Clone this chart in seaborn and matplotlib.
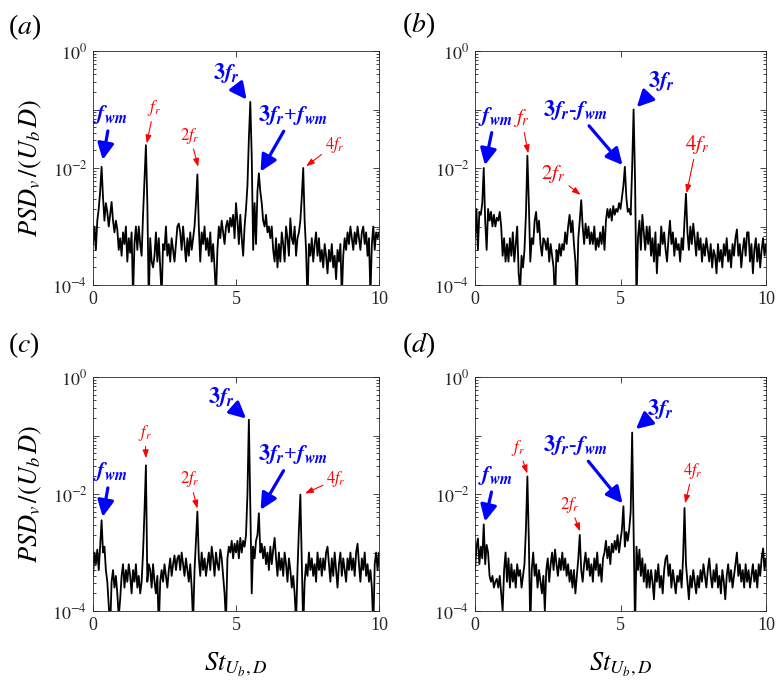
import numpy as np
import pandas as pd
import matplotlib
matplotlib.use('Agg')
import matplotlib.pyplot as plt
import matplotlib.ticker as mticker
import seaborn as sns

# ---------------- data ----------------
# Strouhal-number bins
st = np.linspace(0, 10, 201)

# log10(PSD), one value per bin (0.05 spacing)
psd_a_log10 = [
    -3.3, -3.0, -3.4, -2.9, -2.7, -2.4, -1.98, -2.5, -2.9, -2.6, -2.75, -3.0, -2.8, -2.58, -2.9, -3.1, -2.9, -3.05, -3.4, -3.2,
    -3.5, -3.1, -3.3, -3.0, -3.6, -3.2, -3.45, -3.1, -4.2, -3.3, -3.0, -3.4, -3.0, -3.3, -3.5, -2.8, -2.2, -1.61, -2.6, -4.3,
    -3.2, -3.6, -3.7, -3.5, -3.1, -3.6, -3.2, -3.7, -4.2, -3.3, -3.4, -3.0, -3.5, -3.3, -3.6, -3.2, -3.4, -3.6, -3.3, -3.0,
    -2.95, -3.1, -3.4, -3.0, -3.3, -3.6, -3.2, -3.5, -3.1, -3.4, -3.2, -3.0, -2.6, -2.11, -3.0, -3.6, -3.1, -3.3, -3.0, -3.4,
    -3.2, -3.5, -3.1, -3.6, -3.3, -3.7, -4.2, -3.4, -3.0, -3.2, -2.9, -3.1, -3.3, -3.0, -2.9, -3.1, -2.85, -3.0, -2.8, -3.2,
    -2.6, -2.9, -3.3, -2.8, -3.2, -3.5, -3.0, -2.7, -2.3, -1.5, -0.87, -1.8, -3.4, -2.6, -3.3, -2.4, -2.09, -2.4, -2.6, -2.9,
    -3.0, -2.8, -3.1, -3.0, -3.2, -3.0, -3.4, -3.6, -3.2, -3.7, -3.3, -3.6, -3.1, -3.3, -3.6, -3.0, -3.2, -3.5, -2.86, -3.2,
    -3.3, -3.0, -3.5, -3.2, -3.1, -2.9, -2.5, -2.0, -2.9, -3.4, -4.3, -3.3, -3.5, -3.2, -3.6, -3.3, -3.1, -3.5, -3.2, -3.6,
    -3.4, -3.7, -3.3, -3.5, -3.8, -3.4, -3.6, -3.3, -3.7, -3.5, -3.9, -3.4, -3.6, -3.3, -4.2, -3.5, -3.2, -3.4, -3.1, -3.3,
    -3.0, -3.2, -3.4, -3.1, -3.3, -3.0, -3.2, -3.4, -3.1, -3.0, -3.3, -3.1, -3.5, -3.2, -4.2, -3.3, -3.0, -3.4, -3.1, -3.2, -3.1,
]
psd_b_log10 = [
    -3.2, -2.7, -3.4, -2.75, -2.8, -2.6, -2.0, -2.9, -3.4, -2.7, -2.9, -2.75, -3.0, -2.8, -3.0, -2.85, -2.9, -2.75, -3.0, -3.5,
    -3.2, -3.6, -3.3, -3.6, -3.2, -3.5, -3.1, -3.6, -3.3, -3.0, -3.8, -4.1, -3.5, -3.7, -3.4, -2.8, -1.79, -2.6, -3.6, -3.2,
    -3.3, -2.9, -2.75, -3.1, -2.9, -3.3, -3.5, -3.2, -3.25, -3.4, -3.2, -3.6, -3.3, -3.5, -3.7, -4.3, -3.4, -3.6, -3.3, -3.5,
    -3.3, -3.4, -3.1, -3.3, -3.0, -2.8, -3.1, -2.9, -3.3, -3.6, -4.2, -3.2, -2.9, -2.55, -3.0, -3.3, -2.95, -3.2, -3.0, -3.3,
    -3.1, -3.3, -3.0, -3.4, -3.2, -3.35, -3.1, -3.3, -3.0, -3.4, -2.9, -2.7, -2.85, -2.7, -2.9, -2.65, -2.8, -2.7, -2.75, -2.6,
    -2.7, -2.5, -2.3, -1.98, -2.5, -2.75, -2.7, -2.8, -2.0, -1.0, -2.2, -4.3, -3.2, -2.9, -3.4, -2.8, -3.1, -3.4, -3.0, -3.3,
    -3.0, -3.5, -3.2, -3.6, -3.1, -3.8, -3.3, -3.5, -3.0, -3.3, -3.1, -3.4, -3.6, -3.2, -2.9, -3.3, -3.1, -3.5, -3.2, -3.4,
    -3.3, -3.6, -3.2, -3.4, -2.9, -2.44, -3.1, -3.4, -3.0, -3.3, -2.95, -3.2, -3.5, -3.1, -3.4, -3.2, -3.6, -3.3, -3.5, -3.2,
    -3.4, -3.6, -3.3, -3.7, -3.4, -3.5, -3.8, -3.3, -3.6, -3.4, -3.7, -3.3, -3.5, -3.2, -3.6, -3.4, -3.7, -3.3, -3.5, -3.2,
    -3.05, -3.5, -3.3, -3.7, -3.4, -3.2, -3.5, -3.1, -3.1, -3.6, -3.3, -3.8, -3.4, -3.2, -3.6, -3.3, -3.7, -3.4, -3.2, -3.5, -3.3,
]
psd_c_log10 = [
    -3.4, -3.0, -3.2, -2.95, -3.3, -2.9, -2.45, -3.0, -2.9, -3.3, -3.5, -3.9, -4.3, -3.5, -3.3, -3.6, -3.4, -3.7, -4.1, -3.8,
    -3.4, -3.2, -3.6, -3.3, -3.5, -3.2, -3.4, -3.7, -3.3, -3.5, -3.2, -3.6, -3.4, -3.7, -3.5, -3.0, -2.3, -1.51, -3.5, -3.2,
    -3.3, -3.6, -3.2, -3.5, -3.7, -3.4, -4.3, -3.5, -3.3, -3.5, -3.2, -3.4, -3.6, -3.3, -3.1, -3.4, -3.2, -3.05, -3.3, -3.1,
    -3.05, -3.3, -3.0, -3.2, -3.4, -3.1, -3.3, -3.5, -3.2, -3.6, -4.2, -3.3, -2.8, -2.3, -3.1, -3.4, -3.0, -3.3, -3.1, -3.4,
    -3.2, -3.0, -3.3, -2.9, -3.1, -3.4, -3.0, -3.2, -3.3, -2.95, -3.1, -3.4, -3.7, -4.2, -3.1, -2.9, -3.0, -2.8, -3.1, -2.85,
    -3.0, -2.8, -3.1, -2.75, -3.0, -2.8, -2.9, -2.7, -2.0, -0.73, -2.2, -3.7, -2.9, -3.1, -2.8, -2.7, -2.33, -3.0, -2.85, -3.1,
    -2.9, -3.2, -3.0, -3.3, -2.9, -3.2, -2.95, -2.75, -3.1, -3.4, -3.0, -3.3, -3.1, -3.4, -3.0, -3.2, -3.5, -3.1, -3.3, -3.6,
    -3.4, -3.7, -4.2, -3.3, -2.6, -2.01, -3.2, -4.3, -3.5, -3.2, -3.4, -3.0, -3.3, -3.1, -3.4, -3.2, -3.5, -3.0, -3.3, -3.1,
    -3.4, -3.1, -3.3, -3.0, -2.9, -3.2, -3.5, -3.1, -3.4, -3.0, -3.3, -3.6, -3.2, -3.0, -3.4, -3.1, -3.3, -3.5, -3.1, -3.3,
    -3.0, -3.3, -3.1, -3.4, -3.0, -2.85, -3.2, -3.5, -3.1, -3.3, -3.0, -3.4, -3.2, -3.5, -3.3, -3.6, -4.3, -3.2, -3.0, -3.3, -3.0,
]
psd_d_log10 = [
    -3.3, -2.9, -2.76, -3.2, -2.9, -3.1, -2.52, -3.2, -2.87, -3.0, -3.4, -3.5, -3.4, -3.6, -3.5, -3.45, -3.6, -3.4, -3.7, -4.0,
    -3.3, -3.0, -3.5, -3.1, -3.6, -3.2, -3.5, -3.3, -3.6, -3.2, -3.4, -3.3, -3.6, -3.4, -3.2, -2.6, -1.70, -2.8, -4.3, -3.3,
    -3.0, -3.4, -3.2, -3.6, -3.3, -3.5, -3.7, -3.4, -4.0, -3.3, -3.1, -3.5, -3.2, -3.0, -3.3, -2.95, -3.2, -3.4, -3.1, -3.3,
    -3.0, -3.3, -3.1, -3.4, -3.2, -3.5, -3.3, -3.6, -3.3, -3.7, -3.4, -3.1, -2.7, -3.3, -3.5, -3.2, -3.0, -3.3, -3.1, -3.4,
    -3.2, -3.5, -3.1, -3.3, -3.0, -3.4, -3.2, -3.5, -3.1, -3.0, -2.8, -3.1, -2.9, -3.2, -2.85, -3.0, -2.8, -2.95, -2.7, -3.0,
    -2.8, -2.6, -2.21, -2.9, -2.65, -2.8, -2.6, -2.3, -0.95, -2.6, -4.3, -2.9, -3.3, -2.95, -3.4, -3.1, -3.5, -3.2, -3.6, -3.3,
    -3.6, -3.3, -3.5, -3.8, -3.3, -3.5, -3.2, -3.6, -3.4, -3.7, -3.3, -3.1, -3.05, -3.4, -3.2, -3.6, -3.3, -3.5, -3.7, -3.4,
    -3.5, -3.3, -3.6, -3.1, -2.24, -3.2, -3.5, -3.8, -3.4, -3.6, -3.3, -3.5, -3.7, -3.4, -3.6, -3.3, -3.5, -3.2, -3.4, -3.6,
    -3.3, -3.1, -3.4, -3.6, -3.3, -3.5, -3.2, -3.6, -3.4, -3.7, -3.3, -3.5, -3.8, -3.4, -3.2, -3.5, -3.3, -3.6, -3.4, -3.2,
    -3.0, -3.4, -3.2, -3.5, -3.3, -3.6, -3.2, -3.5, -3.3, -3.6, -3.4, -3.2, -3.5, -3.3, -3.6, -3.2, -3.4, -3.1, -2.93, -3.3, -3.1,
]

panel_names = ['a', 'b', 'c', 'd']
y_tick_values = [1e-4, 1e-3, 1e-2, 1e-1, 1e0]
y_tick_labels = [r'$10^{-4}$', '', r'$10^{-2}$', '', r'$10^{0}$']
x_tick_values = [0, 5, 10]

# peak labels
_f_r = r'$\mathbf{3}\mathbfit{f}_{\mathbfit{r}}$'
_f_wm = r'$\mathbfit{f}_{\mathbfit{wm}}$'
label_text = {
    'fwm': _f_wm,
    '3fr': _f_r,
    '3fr+fwm': _f_r + '+' + _f_wm,
    '3fr-fwm': _f_r + '-' + _f_wm,
    'fr': r'$f_r$',
    '2fr': r'$2f_r$',
    '4fr': r'$4f_r$',
}

# annotation layout: (label, colour, arrow tip (St, log10), text centre (St, log10))
annotations = {
    'a': [('fwm', 'blue', (0.34, -1.86), (0.62, -1.09)),
          ('fr', 'red', (1.88, -1.58), (2.13, -0.98)),
          ('2fr', 'red', (3.68, -1.98), (3.39, -1.45)),
          ('3fr', 'blue', (5.37, -0.83), (4.67, -0.38)),
          ('3fr+fwm', 'blue', (5.86, -2.06), (7.0, -1.09)),
          ('4fr', 'red', (7.45, -1.97), (8.45, -1.60))],
    'b': [('fwm', 'blue', (0.34, -1.95), (0.69, -1.12)),
          ('fr', 'red', (1.83, -1.75), (1.60, -1.15)),
          ('3fr-fwm', 'blue', (5.07, -1.95), (3.44, -1.0)),
          ('3fr', 'blue', (5.56, -0.96), (6.41, -0.52)),
          ('2fr', 'red', (3.63, -2.46), (2.70, -2.10)),
          ('4fr', 'red', (7.27, -2.43), (7.62, -1.60))],
    'c': [('fwm', 'blue', (0.34, -2.39), (0.62, -1.62)),
          ('fr', 'red', (1.85, -1.39), (1.82, -0.96)),
          ('2fr', 'red', (3.65, -2.25), (3.39, -1.75)),
          ('3fr', 'blue', (5.35, -0.71), (4.50, -0.34)),
          ('3fr+fwm', 'blue', (5.86, -2.27), (7.0, -1.32)),
          ('4fr', 'red', (7.41, -1.99), (8.50, -1.75))],
    'd': [('fwm', 'blue', (0.34, -2.47), (0.69, -1.69)),
          ('fr', 'red', (1.80, -1.65), (1.49, -1.21)),
          ('3fr-fwm', 'blue', (5.07, -2.16), (3.44, -1.16)),
          ('3fr', 'blue', (5.53, -0.89), (6.36, -0.54)),
          ('2fr', 'red', (3.61, -2.64), (3.26, -2.18)),
          ('4fr', 'red', (7.22, -2.16), (7.48, -1.61))],
}

# ---------------- figure ----------------
sns.set_theme(style='ticks')
plt.rcParams['font.family'] = ['Liberation Serif', 'DejaVu Serif']
plt.rcParams['mathtext.fontset'] = 'stix'

W, H = 777, 683
fig = plt.figure(figsize=(W / 100, H / 100), dpi=100)
fig.patch.set_facecolor('white')

rects = {'a': (93, 51, 379, 285), 'b': (475, 51, 766, 285),
         'c': (93, 377, 379, 611), 'd': (475, 377, 766, 611)}
panel_label_pos = {'a': (8, 27), 'b': (402, 25), 'c': (8, 345), 'd': (402, 345)}
series = {'a': psd_a_log10, 'b': psd_b_log10, 'c': psd_c_log10, 'd': psd_d_log10}
axis_color = '#262626'

for key in panel_names:
    l, t, r, b = rects[key]
    ax = fig.add_axes([l / W, 1 - b / H, (r - l) / W, (b - t) / H])
    df = pd.DataFrame({'St': st, 'PSD': 10 ** np.asarray(series[key])})
    sns.lineplot(data=df, x='St', y='PSD', ax=ax, color='black', lw=1.3)
    ax.set_yscale('log')
    ax.set_xlim(0, 10)
    ax.set_ylim(1e-4, 1)
    ax.set_xticks(x_tick_values)
    ax.set_xticklabels([str(v) for v in x_tick_values])
    ax.yaxis.set_major_locator(mticker.FixedLocator(y_tick_values))
    ax.yaxis.set_major_formatter(mticker.FixedFormatter(y_tick_labels))
    ax.yaxis.set_minor_locator(mticker.LogLocator(base=10, subs=np.arange(2, 10), numticks=20))
    ax.yaxis.set_minor_formatter(mticker.NullFormatter())
    ax.tick_params(which='both', direction='in', top=True, right=True,
                   color=axis_color, labelcolor=axis_color, width=0.6, labelsize=13, pad=4)
    ax.tick_params(which='major', length=4)
    ax.tick_params(which='minor', length=2)
    for sp in ax.spines.values():
        sp.set_linewidth(0.6)
        sp.set_color(axis_color)

    if key in ('a', 'c'):
        ax.set_ylabel(r'$PSD_v\,/(U_b\,D)$', fontsize=19, labelpad=6, color='black')
    else:
        ax.set_ylabel('')
    if key in ('c', 'd'):
        ax.set_xlabel(r'$St_{U_b,D}$', fontsize=19, labelpad=12, color='black')
    else:
        ax.set_xlabel('')

    for name, col, tip, txt in annotations[key]:
        if col == 'blue':
            fs = 16
            fw = 'bold'
            ap = dict(arrowstyle='-|>,head_length=0.7,head_width=0.35', color='blue',
                      lw=2.3, mutation_scale=14, shrinkA=1, shrinkB=0)
        else:
            fs = 15 if key == 'b' else 12
            fw = 'normal'
            ap = dict(arrowstyle='-|>,head_length=0.7,head_width=0.25', color='red',
                      lw=0.8, mutation_scale=7, shrinkA=0, shrinkB=0)
        ax.annotate(label_text[name], xy=(tip[0], 10 ** tip[1]),
                    xytext=(txt[0], 10 ** txt[1]), color=col, fontsize=fs,
                    fontweight=fw, ha='center', va='center', arrowprops=ap, zorder=5)

    px, py = panel_label_pos[key]
    fig.text(px / W, 1 - py / H, '(' + r'$' + key + r'$' + ')', fontsize=20,
             ha='left', va='center', color='black')

fig.savefig('out.png', dpi=100)
